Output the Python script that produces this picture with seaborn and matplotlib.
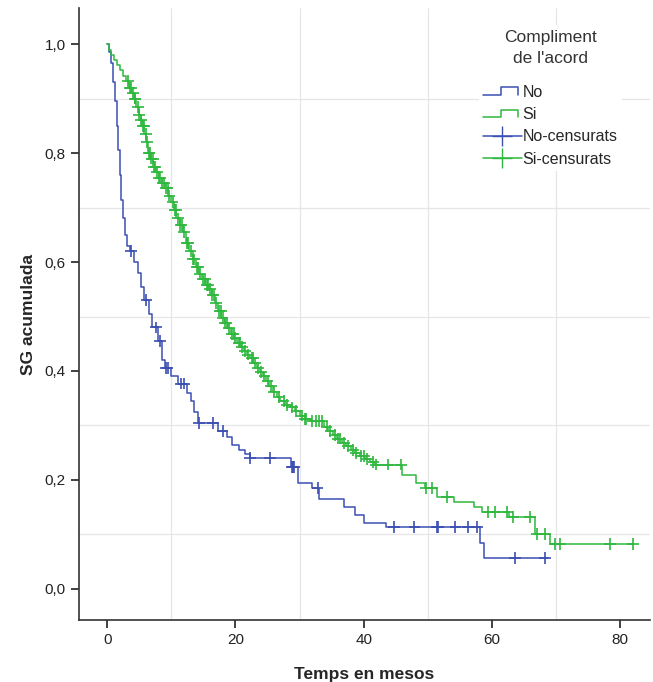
import numpy as np
import pandas as pd
import matplotlib
matplotlib.use("Agg")
import matplotlib.pyplot as plt
from matplotlib.lines import Line2D
from matplotlib.legend_handler import HandlerBase
import seaborn as sns

# Kaplan-Meier steps: (time, survival after the step)
no_t = [0, 0.3, 0.6, 0.9, 1.2, 1.5, 1.7, 2.0, 2.2, 2.5, 2.8, 3.1, 3.5, 4.2, 4.8, 5.3, 5.8,
        6.5, 7.0, 7.9, 8.5, 9.0, 10.0, 11.0, 12.5, 13.0, 13.5, 14.1, 17.2, 18.6, 19.5,
        20.5, 21.5, 22.3, 28.7, 29.8, 32.0, 33.0, 37.0, 38.7, 40.0, 43.5, 58.2, 58.7, 68.8]
no_s = [1.0, 0.985, 0.965, 0.93, 0.895, 0.85, 0.805, 0.76, 0.714, 0.68, 0.65, 0.63, 0.62,
        0.60, 0.58, 0.555, 0.53, 0.505, 0.48, 0.455, 0.42, 0.405, 0.39, 0.377, 0.36, 0.345,
        0.325, 0.305, 0.29, 0.278, 0.265, 0.255, 0.248, 0.24, 0.224, 0.195, 0.185, 0.165,
        0.15, 0.136, 0.121, 0.114, 0.084, 0.057, 0.057]
no_cens = [3.7, 6.1, 7.6, 8.2, 9.2, 9.4, 11.5, 12.0, 14.3, 16.5, 18.0, 22.3, 25.4, 28.8,
           29.0, 29.2, 32.8, 44.7, 47.9, 51.4, 51.6, 54.3, 56.3, 57.7, 63.6, 68.3]

si_t = [0, 0.3, 0.6, 1.0, 1.5, 2.0, 2.5, 3.0, 3.4, 3.8, 4.1, 4.5, 4.9, 5.2, 5.5, 5.8, 6.1,
        6.4, 6.8, 7.2, 7.6, 8.0, 8.5, 9.0, 9.5, 10.0, 10.4, 10.8, 11.3, 11.8, 12.3, 12.8,
        13.3, 13.8, 14.3, 14.8, 15.3, 15.8, 16.3, 16.8, 17.3, 17.8, 18.3, 18.8, 19.3, 19.8,
        20.3, 20.8, 21.3, 21.8, 22.3, 22.8, 23.3, 23.8, 24.3, 24.8, 25.3, 25.8, 26.4, 27.0,
        27.8, 28.5, 29.3, 30.0, 30.8, 31.6, 33.8, 34.5, 35.2, 35.9, 36.6, 37.3, 38.0, 38.7,
        39.4, 40.2, 41.0, 41.8, 46.0, 48.2, 49.5, 51.5, 54.0, 57.2, 58.4, 62.6, 66.7, 69.1, 82.0]
si_s = [1.0, 0.99, 0.98, 0.97, 0.962, 0.952, 0.942, 0.932, 0.92, 0.91, 0.90, 0.885, 0.87,
        0.86, 0.85, 0.835, 0.82, 0.80, 0.79, 0.775, 0.765, 0.755, 0.745, 0.735, 0.722, 0.71,
        0.695, 0.68, 0.668, 0.655, 0.635, 0.62, 0.605, 0.59, 0.578, 0.568, 0.558, 0.55, 0.54,
        0.525, 0.51, 0.498, 0.488, 0.478, 0.468, 0.46, 0.452, 0.444, 0.437, 0.43, 0.424,
        0.415, 0.405, 0.398, 0.39, 0.382, 0.372, 0.362, 0.352, 0.345, 0.338, 0.333, 0.326,
        0.318, 0.312, 0.308, 0.298, 0.29, 0.282, 0.276, 0.268, 0.262, 0.255, 0.249, 0.244,
        0.238, 0.233, 0.228, 0.209, 0.194, 0.185, 0.169, 0.16, 0.150, 0.141, 0.132, 0.101,
        0.082, 0.082]
si_cens = [3.2, 3.5, 3.7, 4.0, 4.3, 4.4, 4.8, 5.0, 5.3, 5.6, 5.7, 6.0, 6.2, 6.5, 6.6, 6.9,
           7.1, 7.3, 7.5, 7.8, 8.1, 8.3, 8.6, 8.9, 9.2, 9.4, 9.7, 10.2, 10.5, 10.7, 11.0,
           11.4, 11.6, 12.0, 12.4, 12.6, 13.0, 13.4, 13.6, 14.0, 14.2, 14.5, 14.9, 15.2,
           15.5, 15.7, 16.0, 16.4, 16.6, 17.0, 17.5, 17.7, 18.0, 18.4, 18.6, 19.0, 19.5,
           19.7, 20.0, 20.5, 20.7, 21.0, 21.5, 22.0, 22.5, 22.7, 23.0, 23.5, 24.0, 24.5,
           25.0, 25.5, 26.0, 26.8, 27.5, 28.0, 28.8, 29.5, 30.3, 30.8, 31.0, 32.0, 32.5,
           33.0, 33.5, 34.2, 34.8, 35.5, 36.0, 36.3, 37.0, 37.5, 38.3, 38.8, 39.5, 40.0,
           40.5, 41.5, 41.9, 43.8, 45.8, 49.7, 50.7, 53.0, 59.4, 60.5, 62.4, 63.3, 65.9,
           67.0, 68.3, 69.8, 70.6, 78.4, 82.0]

col_no = "#3b4fb3"
col_si = "#2fb83e"


def surv_at(times, surv, tc):
    idx = np.searchsorted(times, tc, side="right") - 1
    return np.array(surv)[idx]


class StepHandler(HandlerBase):
    # little step glyph like the SPSS legend
    def create_artists(self, legend, orig_handle, xdescent, ydescent,
                       width, height, fontsize, trans):
        x0, x1 = -xdescent, -xdescent + width
        yl, yh = -ydescent + height * 0.2, -ydescent + height * 0.85
        xs = [x0, x0 + width * 0.45, x0 + width * 0.45, x1 - width * 0.1, x1 - width * 0.1]
        ys = [yl, yl, yh, yh, yl]
        ln = Line2D(xs, ys, color=orig_handle.get_color(), lw=orig_handle.get_linewidth(),
                    transform=trans)
        return [ln]


sns.set_style("white")
plt.rcParams["font.family"] = ["Liberation Sans", "DejaVu Sans"]

fig = plt.figure(figsize=(6.53, 6.82), dpi=100)
ax = fig.add_axes([0.121, 0.091, 0.874, 0.897])

for v in [10, 30, 50, 70]:
    ax.axvline(v, color="#e6e6e6", lw=0.9, zorder=0)
for v in [0.1, 0.3, 0.5, 0.7, 0.9]:
    ax.axhline(v, color="#e6e6e6", lw=0.9, zorder=0)

sns.lineplot(x=no_t, y=no_s, drawstyle="steps-post", color=col_no, lw=1.1,
             sort=False, ax=ax)
sns.lineplot(x=si_t, y=si_s, drawstyle="steps-post", color=col_si, lw=1.1,
             sort=False, ax=ax)

cens_df = pd.concat([
    pd.DataFrame({"t": no_cens, "s": surv_at(no_t, no_s, no_cens), "g": "No"}),
    pd.DataFrame({"t": si_cens, "s": surv_at(si_t, si_s, si_cens), "g": "Si"}),
])
sns.scatterplot(data=cens_df, x="t", y="s", hue="g", palette={"No": col_no, "Si": col_si},
                marker="+", s=70, linewidth=1.2, legend=False, ax=ax, zorder=3)

ax.set_xlim(-4.4, 84.6)
ax.set_ylim(-0.057, 1.066)
ax.set_xticks([0, 20, 40, 60, 80])
ax.set_yticks([0, 0.2, 0.4, 0.6, 0.8, 1.0])
ax.set_yticklabels(["0,0", "0,2", "0,4", "0,6", "0,8", "1,0"])
ax.tick_params(axis="both", direction="out", length=6, width=1.3, color="#333333",
               labelsize=11, labelcolor="#222222", left=True, bottom=True)
sns.despine(ax=ax)
for sp in ["left", "bottom"]:
    ax.spines[sp].set_color("#333333")
    ax.spines[sp].set_linewidth(1.2)

ax.set_xlabel("Temps en mesos", fontsize=12.5, fontweight="bold", labelpad=14)
ax.set_ylabel("SG acumulada", fontsize=12.5, fontweight="bold", labelpad=6)

h_no = Line2D([], [], color=col_no, lw=1.1)
h_si = Line2D([], [], color=col_si, lw=1.1)
handles = [h_no, h_si,
           Line2D([], [], color=col_no, lw=1.1, marker="+", markersize=14),
           Line2D([], [], color=col_si, lw=1.1, marker="+", markersize=14)]
leg = ax.legend(handles, ["No", "Si", "No-censurats", "Si-censurats"],
                title="Compliment\nde l'acord", loc="upper left",
                bbox_to_anchor=(0.686, 0.985), frameon=True, fontsize=11.5,
                title_fontsize=12.5, handlelength=2.4, handletextpad=0.05,
                labelspacing=0.45, borderpad=0.3,
                handler_map={h_no: StepHandler(), h_si: StepHandler()})
leg.get_frame().set_edgecolor("none")
leg.get_frame().set_facecolor("white")
leg.get_frame().set_alpha(1)
leg._legend_box.align = "center"
leg._legend_box.sep = 14
leg.get_title().set_multialignment("center")
leg.get_title().set_color("#333333")
leg.get_title().set_linespacing(1.45)

fig.savefig("out.png", dpi=100, facecolor="w")
